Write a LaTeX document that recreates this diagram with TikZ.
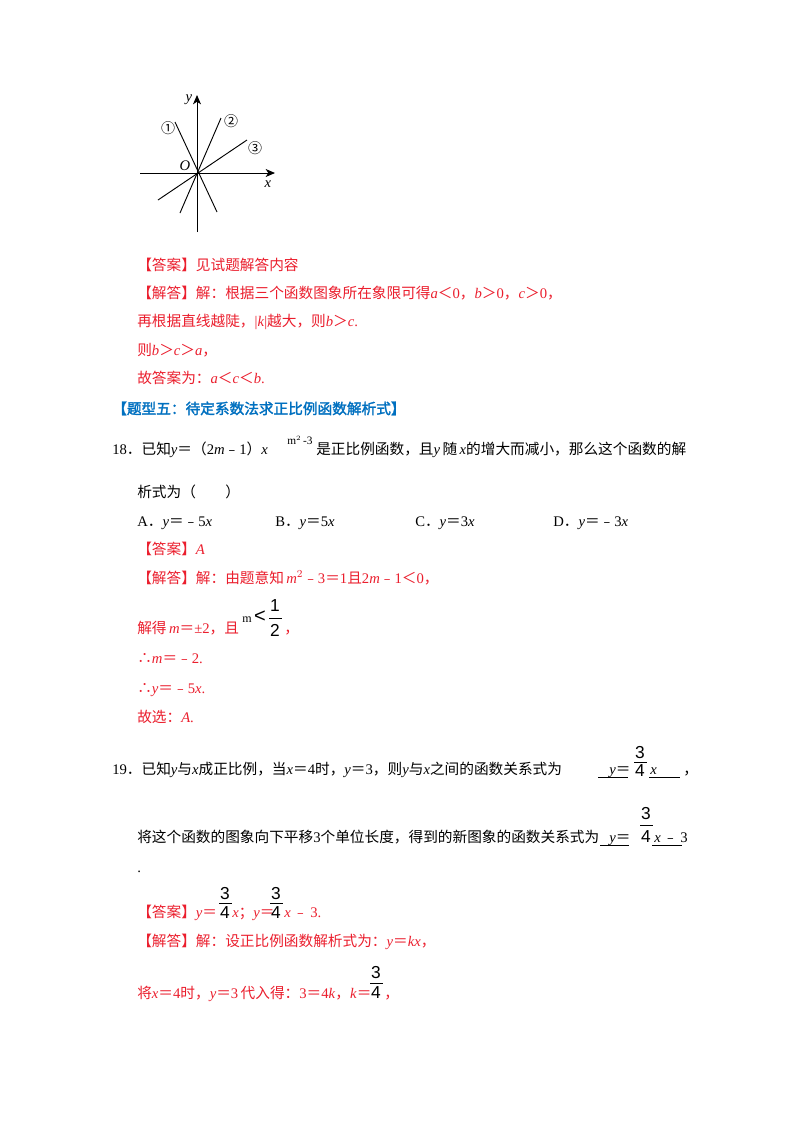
\documentclass[tikz,border=0pt]{standalone}
\usepackage{fontspec}
\usetikzlibrary{arrows.meta}
\setmainfont{Liberation Serif}
\newfontfamily\zh{Noto Sans CJK SC}
\newfontfamily\zhb[FakeBold=2]{Noto Sans CJK SC}
\newfontfamily\ar{Liberation Sans}
\definecolor{ans}{RGB}{235,30,45}
\definecolor{head}{RGB}{0,112,192}
\begin{document}
\begin{tikzpicture}[x=0.75pt,y=-0.75pt,
  t/.style={anchor=base west,inner sep=0pt,font=\fontsize{11}{13}\selectfont},
  r/.style={t,text=ans},
  fr/.style={inner sep=0pt,font=\ar\fontsize{13}{14}\selectfont},
  ax/.style={line width=0.7pt,-{Stealth[length=7pt,width=6pt,inset=2pt]}},
  ln/.style={line width=0.7pt}]
\useasboundingbox (0,0) rectangle (800,1132);
\fill[white] (0,0) rectangle (800,1132);
% graph
\coordinate (O) at (197,173);
\coordinate (yb) at (197,232); \coordinate (yt) at (197,95);
\coordinate (xl) at (140,173); \coordinate (xr) at (275,173);
\draw[ax] (yb) -- (yt);
\draw[ax] (xl) -- (xr);
\coordinate (a1) at (175,122); \coordinate (a2) at (217,212);
\coordinate (b1) at (221,118); \coordinate (b2) at (180,213);
\coordinate (c1) at (247,140); \coordinate (c2) at (158,200);
\draw[ln] (a1) -- (a2); \draw[ln] (b1) -- (b2); \draw[ln] (c1) -- (c2);
\node[inner sep=0pt,font=\zh\fontsize{10.5}{11}\selectfont] (l1) at (168,128) {①};
\node[inner sep=0pt,font=\zh\fontsize{10.5}{11}\selectfont] (l2) at (231,121) {②};
\node[inner sep=0pt,font=\zh\fontsize{10.5}{11}\selectfont] (l3) at (255,148) {③};
\node[inner sep=0pt,font=\itshape\fontsize{11}{11}\selectfont] (lo) at (185,166) {O};
\node[inner sep=0pt,font=\itshape\fontsize{11}{11}\selectfont] (ly) at (189,100) {y};
\node[inner sep=0pt,font=\itshape\fontsize{11}{11}\selectfont] (lx) at (268,184) {x};
% answer 17
\node[r] (t1) at (137,270) {{\zh【答案】见试题解答内容}};
\node[r] (t2) at (137,298) {{\zh【解答】解：根据三个函数图象所在象限可得}\textit{a}{\zh＜}0{\zh，}\textit{b}{\zh＞}0{\zh，}\textit{c}{\zh＞}0{\zh，}};
\node[r] (t3) at (137,326) {{\zh 再根据直线越陡，}|\textit{k}|{\zh 越大，则}\textit{b}{\zh＞}\textit{c}.};
\node[r] (t4) at (137,355) {{\zh 则}\textit{b}{\zh＞}\textit{c}{\zh＞}\textit{a}{\zh，}};
\node[r] (t5) at (137,383) {{\zh 故答案为：}\textit{a}{\zh＜}\textit{c}{\zh＜}\textit{b}.};
\node[t,text=head] (h) at (112,414) {{\zhb【题型五：待定系数法求正比例函数解析式】}};
% Q18
\node[t] (q18a) at (112,454) {18{\zh．已知}\textit{y}{\zh＝（}2\textit{m}{\zh﹣}1{\zh）}\textit{x}};
\node[inner sep=0pt,anchor=base west,font=\fontsize{8.5}{9}\selectfont] (sup) at (287,444) {m$^{\scriptscriptstyle 2}$\,-3};
\node[t] (q18b) at (316,454) {{\zh 是正比例函数，且}\textit{y}\,{\zh 随}\,\textit{x}{\zh 的增大而减小，那么这个函数的解}};
\node[t] (q18c) at (137,497) {{\zh 析式为（\qquad ）}};
\node[t] (oA) at (137,526) {A{\zh．}\textit{y}{\zh＝﹣}5\textit{x}};
\node[t] (oB) at (275,526) {B{\zh．}\textit{y}{\zh＝}5\textit{x}};
\node[t] (oC) at (415,526) {C{\zh．}\textit{y}{\zh＝}3\textit{x}};
\node[t] (oD) at (553,526) {D{\zh．}\textit{y}{\zh＝﹣}3\textit{x}};
\node[r] (a18) at (137,554) {{\zh【答案】}\textit{A}};
\node[r] (s1) at (137,583) {{\zh【解答】解：由题意知}\,\textit{m}$^2${\zh﹣}3{\zh＝}1{\zh 且}2\textit{m}{\zh﹣}1{\zh＜}0{\zh，}};
\node[r] (s2) at (137,633) {{\zh 解得}\,\textit{m}{\zh＝}±2{\zh，且}};
\node[anchor=base west,inner sep=0pt,font=\fontsize{9}{10}\selectfont] (mm) at (242,622) {m};
\node[inner sep=0pt,font=\ar\fontsize{15}{16}\selectfont] (lt) at (260,617) {<};
\node[fr] (f1n) at (275,606) {1};
\node[fr] (f1d) at (275,630) {2};
\draw[line width=0.5pt] (269,618) -- (282,618);
\node[r] (s2b) at (284,633) {{\zh，}};
\node[r] (s3) at (137,663) {{\zh∴}\textit{m}{\zh＝﹣}2.};
\node[r] (s4) at (137,693) {{\zh∴}\textit{y}{\zh＝﹣}5\textit{x}.};
\node[r] (s5) at (137,722) {{\zh 故选：}\textit{A}.};
% Q19
\node[t] (q19a) at (112,774) {19{\zh．已知}\textit{y}{\zh 与}\textit{x}{\zh 成正比例，当}\textit{x}{\zh＝}4{\zh 时，}\textit{y}{\zh＝}3{\zh，则}\textit{y}{\zh 与}\textit{x}{\zh 之间的函数关系式为}};
\node[t] (q19y) at (609,774) {\textit{y}{\zh＝}};
\node[fr] (g1n) at (640,753) {3};
\node[fr] (g1d) at (640,771) {4};
\draw[line width=0.5pt] (634,762) -- (647,762);
\node[t] (q19x) at (650,774) {\textit{x}};
\node[t] (q19c) at (683,774) {{\zh，}};
\draw[line width=0.5pt] (598,777) -- (628,777);
\draw[line width=0.5pt] (649,777) -- (680,777);
\node[t] (q19b) at (137,842) {{\zh 将这个函数的图象向下平移}3{\zh 个单位长度，得到的新图象的函数关系式为}};
\node[t] (q19y2) at (609,842) {\textit{y}{\zh＝}};
\node[fr] (g2n) at (646,814) {3};
\node[fr] (g2d) at (646,837) {4};
\draw[line width=0.5pt] (640,825) -- (653,825);
\node[t] (q19x2) at (654,842) {\textit{x}\,{\zh﹣}\,3};
\draw[line width=0.5pt] (600,845) -- (629,845);
\draw[line width=0.5pt] (652,845) -- (682,845);
\node[t] (dot) at (137,872) {.};
\node[r] (a19) at (137,917) {{\zh【答案】}\textit{y}{\zh＝}};
\node[fr] (h1n) at (225,894) {3};
\node[fr] (h1d) at (225,913) {4};
\draw[line width=0.5pt] (219,903) -- (232,903);
\node[r] (a19b) at (232,917) {\textit{x}{\zh；}\textit{y}{\zh＝}};
\node[fr] (h2n) at (276,894) {3};
\node[fr] (h2d) at (276,913) {4};
\draw[line width=0.5pt] (270,903) -- (283,903);
\node[r] (a19c) at (284,917) {\textit{x}\,{\zh﹣}\,3.};
\node[r] (j1) at (137,946) {{\zh【解答】解：设正比例函数解析式为：}\textit{y}{\zh＝}\textit{kx}{\zh，}};
\node[r] (j2) at (137,998) {{\zh 将}\textit{x}{\zh＝}4{\zh 时，}\textit{y}{\zh＝}3\,{\zh 代入得：}3{\zh＝}4\textit{k}{\zh，}\textit{k}{\zh＝}};
\node[fr] (k1n) at (376,973) {3};
\node[fr] (k1d) at (376,993) {4};
\draw[line width=0.5pt] (370,983) -- (383,983);
\node[r] (j2b) at (384,998) {{\zh，}};
\end{tikzpicture}
\end{document}
